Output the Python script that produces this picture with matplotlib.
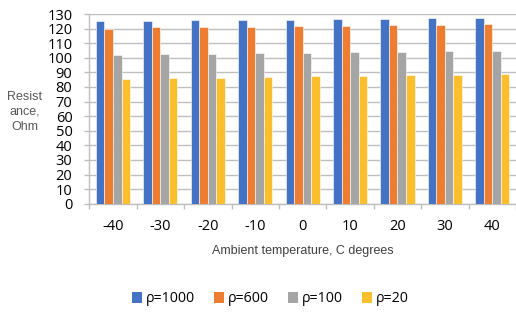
import matplotlib
matplotlib.use("Agg")
import matplotlib.pyplot as plt
import numpy as np
from matplotlib.patches import Patch

categories = ["-40", "-30", "-20", "-10", "0", "10", "20", "30", "40"]
series_names = ["ρ=1000", "ρ=600", "ρ=100", "ρ=20"]
rho_1000 = [125.4, 125.4, 126.1, 126.1, 126.1, 126.8, 126.8, 127.5, 127.5]
rho_600 = [119.9, 120.8, 120.8, 120.8, 121.5, 121.5, 122.2, 122.2, 122.9]
rho_100 = [101.8, 102.4, 102.4, 103.1, 103.1, 103.8, 103.8, 104.5, 104.5]
rho_20 = [85.4, 86.1, 86.1, 86.8, 87.5, 87.5, 88.2, 88.2, 88.9]
yticks = list(range(0, 131, 10))

colors = ["#4472C4", "#ED7D31", "#A5A5A5", "#FBBF2E"]
series = [rho_1000, rho_600, rho_100, rho_20]

plt.rcParams['font.family'] = ['Open Sans', 'DejaVu Sans']

fig = plt.figure(figsize=(5.16, 3.14), dpi=100)
ax = fig.add_axes([89.3 / 516, (314 - 203.7) / 314, 1 - 89.3 / 516, (203.7 - 14) / 314])

x = np.arange(len(categories))
bw = 0.18
for i, (vals, c) in enumerate(zip(series, colors)):
    ax.bar(x + (i - 1.5) * bw, vals, width=bw, color=c, edgecolor="white",
           linewidth=0.4, zorder=3)

ax.set_xlim(-0.5, len(categories) - 0.5)
ax.set_ylim(0, 130)
ax.set_yticks(yticks)
ax.set_yticklabels([str(t) for t in yticks], fontsize=10.5, color="black")
ax.yaxis.grid(True, color="#BFBFBF", linewidth=1.0, zorder=0)
ax.tick_params(axis="y", length=3.6, width=1.0, color="#BFBFBF", pad=8.5)

ax.set_xticks(x)
ax.set_xticklabels(categories, fontsize=10.5, color="black")
ax.set_xticks(np.arange(-0.5, len(categories) + 0.5, 1), minor=True)
ax.tick_params(axis="x", which="major", length=0, pad=11)
ax.tick_params(axis="x", which="minor", length=3.6, width=1.0, color="#BFBFBF")

for s in ["top", "right"]:
    ax.spines[s].set_visible(False)
for s in ["left", "bottom"]:
    ax.spines[s].set_color("#BFBFBF")
    ax.spines[s].set_linewidth(1.0)

fig.text(302.5 / 516, 1 - 251 / 314, "Ambient temperature, C degrees",
         ha="center", va="center", fontsize=9, color="#404040",
         family=["Liberation Sans", "DejaVu Sans"])
fig.text(24.5 / 516, 1 - 112 / 314, "Resist\nance,\nOhm", ha="center",
         va="center", fontsize=9, color="#595959", linespacing=1.3,
         family=["Liberation Sans", "DejaVu Sans"])

handles = [Patch(facecolor=c, edgecolor="none", label=n) for c, n in zip(colors, series_names)]
fig.legend(handles=handles, loc="center", bbox_to_anchor=(270.5 / 516, 1 - 299 / 314),
           ncol=4, frameon=False, fontsize=10.3, handlelength=0.7, handleheight=0.7,
           handletextpad=0.3, columnspacing=1.3)

fig.savefig("out.png", dpi=100)
